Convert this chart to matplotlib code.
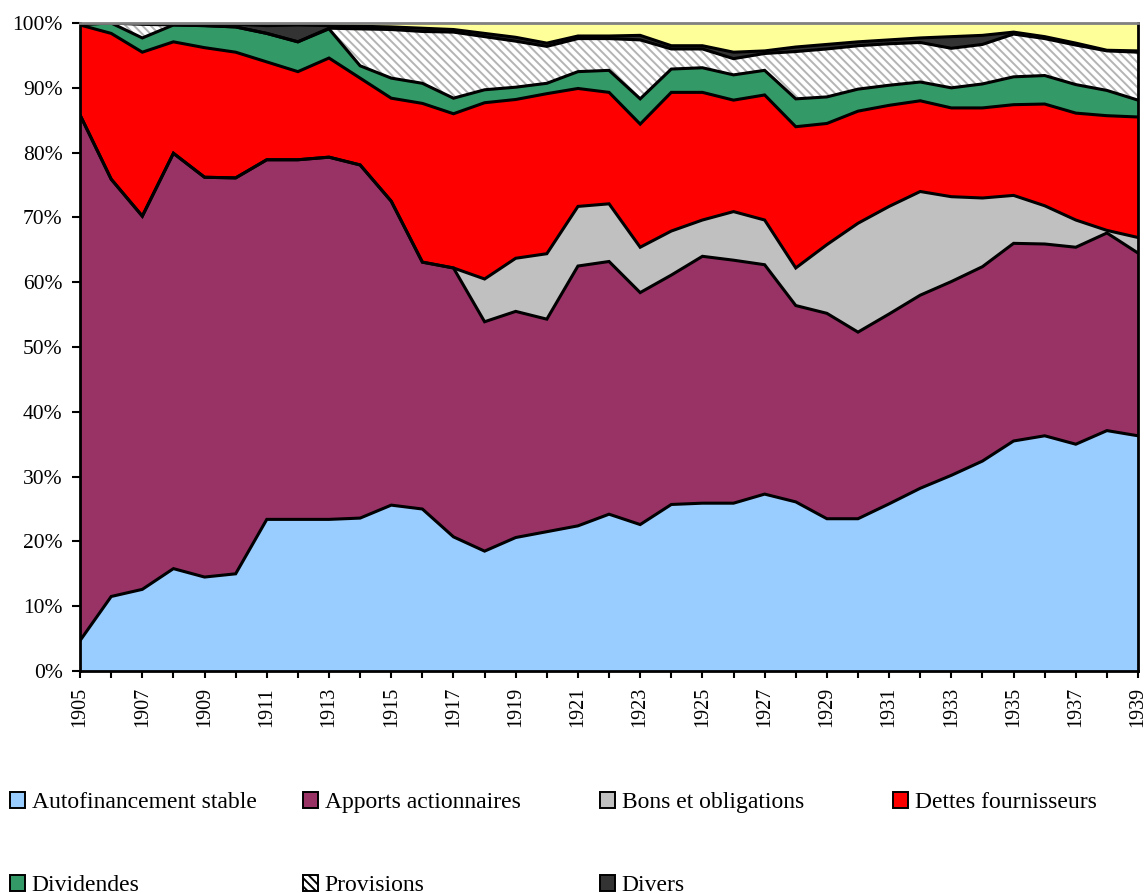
import matplotlib
matplotlib.use("Agg")
import matplotlib.pyplot as plt
from matplotlib.patches import Patch
import numpy as np

plt.rcParams['font.family'] = ['Liberation Serif', 'DejaVu Serif']
plt.rcParams['hatch.color'] = '#b4b4b4'
plt.rcParams['hatch.linewidth'] = 1.4

years = list(range(1905, 1940))

# parts of the financing, in % of total
autofinancement = [4.7, 11.5, 12.6, 15.8, 14.5, 15.0, 23.4, 23.4, 23.4, 23.6,
                   25.6, 25.0, 20.7, 18.5, 20.6, 21.5, 22.4, 24.2, 22.6, 25.7,
                   25.9, 25.9, 27.3, 26.1, 23.5, 23.5, 25.8, 28.2, 30.2, 32.4,
                   35.5, 36.3, 35.0, 37.1, 36.3]
apports = [81.1, 64.4, 57.6, 64.1, 61.7, 61.1, 55.5, 55.5, 55.9, 54.5,
           46.9, 38.1, 41.5, 35.4, 34.9, 32.8, 40.1, 39.0, 35.8, 35.4,
           38.1, 37.5, 35.4, 30.3, 31.7, 28.8, 29.3, 29.8, 29.9, 30.0,
           30.5, 29.6, 30.4, 30.5, 28.2]
bons = [0, 0, 0, 0, 0, 0, 0, 0, 0, 0,
        0, 0, 0, 6.6, 8.2, 10.1, 9.2, 8.9, 7.0, 6.8,
        5.6, 7.5, 6.9, 5.8, 10.6, 16.8, 16.6, 16.0, 13.1, 10.6,
        7.4, 5.9, 4.2, 0.4, 2.4]
dettes = [13.9, 22.5, 25.3, 17.2, 20.0, 19.4, 15.1, 13.6, 15.3, 13.4,
          15.9, 24.5, 23.8, 27.2, 24.5, 24.7, 18.2, 17.2, 19.0, 21.4,
          19.7, 17.2, 19.3, 21.8, 18.7, 17.3, 15.6, 14.0, 13.7, 13.9,
          14.0, 15.7, 16.5, 17.7, 18.6]
dividendes = [0.1, 1.6, 2.2, 2.6, 3.4, 3.9, 4.4, 4.6, 4.5, 1.9,
              3.1, 3.1, 2.4, 2.0, 1.9, 1.6, 2.6, 3.4, 3.9, 3.6,
              3.8, 3.9, 3.8, 4.3, 4.1, 3.4, 3.1, 2.9, 3.1, 3.7,
              4.3, 4.4, 4.4, 3.9, 2.6]
provisions = [0, 0, 2.1, 0, 0, 0, 0, 0, 0.1, 5.7,
              7.5, 8.0, 10.2, 8.2, 7.1, 5.7, 5.1, 4.9, 9.1, 3.1,
              2.9, 2.5, 2.6, 7.3, 7.4, 6.7, 6.4, 6.1, 6.1, 6.1,
              6.6, 5.7, 6.1, 6.1, 7.4]
divers = [0.2, 0, 0.2, 0.3, 0.3, 0.4, 1.2, 2.6, 0.4, 0.4,
          0.4, 0.5, 0.4, 0.5, 0.6, 0.5, 0.4, 0.4, 0.7, 0.5,
          0.5, 1.0, 0.4, 0.7, 0.7, 0.6, 0.6, 0.7, 1.8, 1.4,
          0.3, 0.3, 0.3, 0.1, 0.2]
autres = [0, 0, 0, 0, 0.1, 0.2, 0.4, 0.3, 0.4, 0.5,
          0.6, 0.8, 1.0, 1.6, 2.2, 3.1, 2.0, 2.0, 1.9, 3.5,
          3.5, 4.5, 4.3, 3.7, 3.3, 2.9, 2.6, 2.3, 2.1, 1.9,
          1.4, 2.1, 3.1, 4.2, 4.3]

labels = ['Autofinancement stable', 'Apports actionnaires', 'Bons et obligations',
          'Dettes fournisseurs', 'Dividendes', 'Provisions', 'Divers']
colors = ['#99ccff', '#993366', '#c0c0c0', '#ff0000', '#339966', '#ffffff', '#333333', '#ffff99']

series = [autofinancement, apports, bons, dettes, dividendes, provisions, divers, autres]
data = np.array(series, dtype=float)
# rescale each year so the stack reaches exactly 100 %
data = data / data.sum(axis=0) * 100

fig = plt.figure(figsize=(11.44, 8.93), dpi=100)
ax = fig.add_axes([0.070, 0.2486, 0.9248, 0.7256])

polys = ax.stackplot(years, data, colors=colors, linewidth=0)
polys[5].set_hatch('\\\\\\\\')
polys[5].set_edgecolor('#b4b4b4')
polys[5].set_linewidth(0)

# black outlines between the layers
cum = np.cumsum(data, axis=0)
for k in range(len(series) - 1):
    ax.plot(years, cum[k], color='black', lw=2.2, solid_joinstyle='miter')

ax.set_xlim(1905, 1939)
ax.set_ylim(0, 100)
ax.set_yticks(range(0, 101, 10))
ax.set_yticklabels([f'{v}%' for v in range(0, 101, 10)])
ax.set_xticks(years)
ax.set_xticklabels([str(y) if (y - 1905) % 2 == 0 else '' for y in years], rotation=90)
ax.tick_params(axis='y', labelsize=15.5, length=5.5, width=1.5, direction='out', pad=7)
ax.tick_params(axis='x', labelsize=14.5, length=5, width=1.5, direction='out', pad=6.5)

for s in ['left', 'bottom', 'right']:
    ax.spines[s].set_color('black')
    ax.spines[s].set_linewidth(2)
ax.spines['top'].set_color('#808080')
ax.spines['top'].set_linewidth(2)

# legend: 4 columns, 2 rows, last cell empty
handles = [Patch(facecolor=colors[i], edgecolor='black', linewidth=1.4) for i in range(7)]
handles[5] = Patch(facecolor='white', edgecolor='black', linewidth=1.4, hatch='\\\\\\\\')
col_x = [10, 303, 600, 893]
cols = [[0, 4], [1, 5], [2, 6], [3]]
for cx, idx in zip(col_x, cols):
    fig.legend([handles[i] for i in idx], [labels[i] for i in idx],
               loc='upper left', bbox_to_anchor=(cx / 1144, 1 - 792 / 893),
               frameon=False, fontsize=17, handlelength=0.64, handleheight=0.64,
               handletextpad=0.28, labelspacing=2.62, borderpad=0, borderaxespad=0)

fig.savefig('out.png', dpi=100)
